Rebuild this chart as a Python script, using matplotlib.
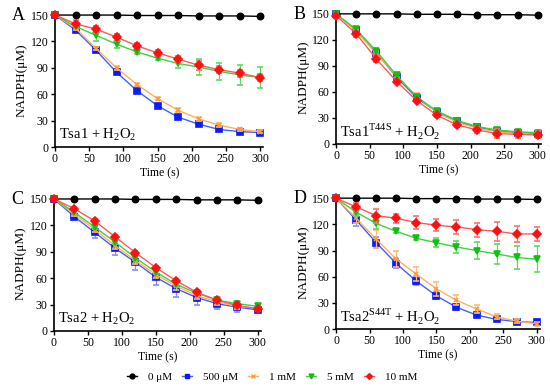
import matplotlib.pyplot as plt
import numpy as np
from matplotlib.lines import Line2D

plt.rcParams["font.family"] = ["Liberation Serif", "DejaVu Serif"]
plt.rcParams["mathtext.fontset"] = "custom"
plt.rcParams["mathtext.rm"] = "Liberation Serif"

TIME = [0, 30, 60, 90, 120, 150, 180, 210, 240, 270, 300]
LEGEND = ["0 μM", "500 μM", "1 mM", "5 mM", "10 mM"]

# panel A: Tsa1
A_0 = [150, 150, 150, 150, 149.5, 149.5, 149.5, 149, 149, 149, 148.5]
A_500 = [150, 133, 110, 85, 64, 47, 34, 26, 20, 17.5, 16.5]
A_1 = [150, 135, 112, 90, 71, 55, 42, 32, 25, 20, 17.5]
A_5 = [150, 137, 127, 117, 108, 101, 95, 91, 86, 82, 79]
A_10 = [150, 140, 134, 125, 115, 107, 100, 93, 88, 84, 79]
A_500_err = [1, 2, 2, 2, 2, 2, 2, 2, 2, 2, 2]
A_1_err = [1, 2, 2, 2, 2, 2, 2, 2, 2, 2, 2]
A_5_err = [1, 3, 7, 4, 2, 2, 5, 9, 10, 11, 12]
A_10_err = [1, 4, 4, 4, 3, 3, 3, 5, 4, 4, 4]

# panel B: Tsa1 T44S
B_0 = [150, 150, 150, 150, 149.5, 149.5, 149.5, 149, 149, 149, 148.5]
B_500 = [150, 131, 105, 77, 53, 37, 26, 19, 15, 13, 12]
B_1 = [150, 130, 104, 78, 55, 36, 25, 18, 14, 12, 11]
B_5 = [150, 132, 107, 79, 54, 38, 27, 20, 16, 14, 13]
B_10 = [148, 127, 98, 72, 50, 33, 22, 16, 12, 11, 10.5]
B_500_err = [1, 2, 2, 2, 2, 2, 2, 2, 2, 2, 2]
B_1_err = [1, 3, 3, 4, 4, 3, 3, 3, 4, 4, 4]
B_5_err = [1, 2, 2, 2, 2, 2, 2, 2, 2, 2, 2]
B_10_err = [2, 4, 4, 2, 2, 2, 2, 3, 5, 4, 4]

# panel C: Tsa2
C_0 = [150, 150, 150, 150, 149.5, 149.5, 149.5, 149, 149, 149, 148.5]
C_500 = [150, 130, 112, 94, 78, 61, 48, 38, 31, 27, 24]
C_1 = [150, 133, 115, 97, 80, 64, 51, 40, 33, 28, 26]
C_5 = [150, 135, 118, 101, 83, 67, 53, 43, 35, 31, 28]
C_10 = [150, 139, 125, 107, 89, 72, 57, 44, 35, 29, 25]
C_500_err = [1, 2, 6, 8, 9, 9, 9, 8, 6, 5, 3]
C_1_err = [1, 2, 3, 4, 4, 4, 4, 4, 3, 3, 2]
C_5_err = [1, 2, 2, 2, 2, 2, 2, 2, 2, 2, 2]
C_10_err = [1, 2, 2, 2, 2, 2, 2, 2, 2, 2, 2]

# panel D: Tsa2 S44T
D_0 = [150, 150, 150, 150, 149.5, 149.5, 149.5, 149, 149, 149, 148.5]
D_500 = [150, 125, 99, 75, 55, 38, 25, 16, 11, 8.5, 7.5]
D_1 = [150, 127, 103, 80, 63, 46, 33, 23, 14, 9, 6]
D_5 = [150, 134, 121, 112, 104, 99, 94, 90, 86, 82, 80]
D_10 = [150, 140, 130, 127, 122, 119, 117, 114, 112, 109, 109]
D_500_err = [1, 7, 6, 5, 5, 4, 3, 2, 2, 2, 2]
D_1_err = [1, 6, 10, 9, 8, 8, 6, 5, 3, 2, 2]
D_5_err = [1, 4, 6, 2, 2, 5, 7, 10, 12, 13, 15]
D_10_err = [1, 5, 8, 5, 7, 7, 8, 8, 11, 9, 8]

LINE_COLORS = ["#000000", "#4060ff", "#ffb060", "#40d040", "#ff5a5a"]
MARK_COLORS = ["#000000", "#0a1aff", "#ff9a30", "#10c010", "#ff1010"]
ERR_COLORS = ["#000000", "#8090ff", "#ffb878", "#60d860", "#ff7070"]
MARKERS = ["o", "s", "x", "v", "D"]
MSIZES = [4.5, 4.5, 3.5, 4.5, 4]

panels = [
    ("A", "Tsa1 + H$_\\mathregular{2}$O$_\\mathregular{2}$",
     [0.100, 0.621, 0.379, 0.347],
     [A_0, A_500, A_1, A_5, A_10],
     [None, A_500_err, A_1_err, A_5_err, A_10_err]),
    ("B", "Tsa1$^\\mathregular{T44S}$ + H$_\\mathregular{2}$O$_\\mathregular{2}$",
     [0.611, 0.629, 0.373, 0.342],
     [B_0, B_500, B_1, B_5, B_10],
     [None, B_500_err, B_1_err, B_5_err, B_10_err]),
    ("C", "Tsa2 + H$_\\mathregular{2}$O$_\\mathregular{2}$",
     [0.098, 0.147, 0.377, 0.347],
     [C_0, C_500, C_1, C_5, C_10],
     [None, C_500_err, C_1_err, C_5_err, C_10_err]),
    ("D", "Tsa2$^\\mathregular{S44T}$ + H$_\\mathregular{2}$O$_\\mathregular{2}$",
     [0.611, 0.152, 0.371, 0.344],
     [D_0, D_500, D_1, D_5, D_10],
     [None, D_500_err, D_1_err, D_5_err, D_10_err]),
]

fig = plt.figure(figsize=(5.5, 3.88), dpi=100)
for letter, label, rect, series, errs in panels:
    ax = fig.add_axes(rect)
    for i, (ys, err) in enumerate(zip(series, errs)):
        ax.errorbar(TIME, ys, yerr=err, color=LINE_COLORS[i], lw=1.0,
                    marker=MARKERS[i], ms=MSIZES[i],
                    mfc=MARK_COLORS[i], mec=MARK_COLORS[i], mew=1.2,
                    ecolor=ERR_COLORS[i], elinewidth=0.9, capsize=2,
                    clip_on=False, zorder=3 + i)
    ax.set_xlim(0, 305)
    ax.set_ylim(0, 153)
    ax.set_xticks(np.arange(0, 301, 50))
    ax.set_yticks(np.arange(0, 151, 30))
    for s in ["top", "right"]:
        ax.spines[s].set_visible(False)
    for s in ["left", "bottom"]:
        ax.spines[s].set_linewidth(1.2)
    ax.tick_params(labelsize=8.5, length=3, width=1, pad=1.5)
    ax.set_ylabel("NADPH(μM)", fontsize=9.5, labelpad=2)
    ax.set_xlabel("Time (s)", fontsize=8.5, labelpad=1.5)
    ax.text(0.02, 0.095, label, transform=ax.transAxes, fontsize=10.5,
            ha="left", va="center", zorder=20)
    fig.text(rect[0] - 0.078, rect[1] + rect[3] - 0.008, letter,
             fontsize=13, ha="left", va="center")

handles = [Line2D([], [], color=LINE_COLORS[i], lw=1.0, marker=MARKERS[i],
                  ms=MSIZES[i] - 1, mfc=MARK_COLORS[i], mec=MARK_COLORS[i])
           for i in range(5)]
fig.legend(handles, LEGEND, loc="center", bbox_to_anchor=(0.495, 0.028),
           ncol=5, frameon=False, fontsize=8, handlelength=0.9,
           columnspacing=0.9, handletextpad=1.0)

fig.savefig("out.png", dpi=100)
